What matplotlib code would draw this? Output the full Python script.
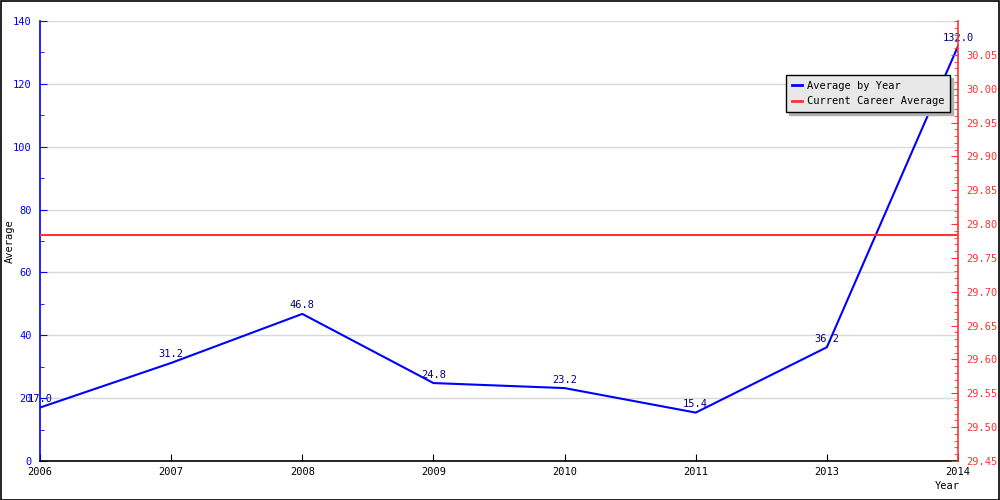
import matplotlib
matplotlib.use("Agg")
import matplotlib.pyplot as plt
from matplotlib.ticker import FixedLocator, MultipleLocator, FormatStrFormatter
from matplotlib.lines import Line2D
from matplotlib.patches import Rectangle

years = ["2006", "2007", "2008", "2009", "2010", "2011", "2013", "2014"]
averages = [17.0, 31.2, 46.8, 24.8, 23.2, 15.4, 36.2, 132.0]
career_average = 29.784
right_ticks = [29.45, 29.50, 29.55, 29.60, 29.65, 29.70, 29.75, 29.80, 29.85, 29.90, 29.95, 30.00, 30.05]

FS = 7.5
plt.rcParams['font.family'] = ['DejaVu Sans Mono']
plt.rcParams['font.size'] = FS

BLUE = '#0000ff'
RED = '#ff3333'
NAVY = '#000080'

fig = plt.figure(figsize=(10, 5), dpi=100)
fig.patch.set_facecolor('white')
fig.patches.append(Rectangle((0.0005, 0.001), 0.998, 0.997, transform=fig.transFigure,
                             fill=False, edgecolor='black', linewidth=1.2))

ax = fig.add_axes([0.040, 0.078, 0.918, 0.880])
x = list(range(len(years)))
ax.plot(x, averages, color=BLUE, linewidth=1.5, zorder=3)
for xi, v in zip(x, averages):
    ax.annotate(f"{v:.1f}", (xi, v), xytext=(0, 2.5), textcoords='offset points',
                ha='center', va='bottom', color=NAVY, fontsize=FS, zorder=4)

ax.set_xlim(0, len(years) - 1)
ax.set_ylim(0, 140)
ax.set_xticks(x)
ax.set_xticklabels(years)
ax.yaxis.set_major_locator(MultipleLocator(20))
ax.yaxis.set_minor_locator(MultipleLocator(10))
ax.grid(axis='y', which='major', color='#d8d8d8', linewidth=1, zorder=0)
ax.set_axisbelow(True)

ax.spines['top'].set_visible(False)
ax.spines['right'].set_visible(False)
ax.spines['left'].set_color(BLUE)
ax.spines['left'].set_linewidth(1.2)
ax.spines['bottom'].set_color('black')
ax.spines['bottom'].set_linewidth(1.2)
ax.tick_params(axis='y', which='major', direction='in', length=5, colors=BLUE, labelcolor=BLUE, pad=6)
ax.tick_params(axis='y', which='minor', direction='in', length=3, colors=BLUE)
ax.tick_params(axis='x', which='major', direction='in', length=5, colors='black', pad=4)

ax.set_ylabel("Average", color='black', fontsize=FS)
ax.yaxis.set_label_coords(-0.027, 0.5)
fig.text(0.947, 0.028, "Year", ha='center', va='center', fontsize=FS, color='black')

ax2 = ax.twinx()
ax2.set_ylim(29.45, 30.10)
ax2.yaxis.set_major_locator(FixedLocator(right_ticks))
ax2.yaxis.set_minor_locator(MultipleLocator(0.01))
ax2.yaxis.set_major_formatter(FormatStrFormatter('%.2f'))
ax2.axhline(career_average, color=RED, linewidth=1.5, zorder=2)
for s in ['top', 'left', 'bottom']:
    ax2.spines[s].set_visible(False)
ax2.spines['right'].set_color(RED)
ax2.spines['right'].set_linewidth(1.2)
ax2.tick_params(axis='y', which='major', direction='in', length=5, colors=RED, labelcolor=RED, pad=6)
ax2.tick_params(axis='y', which='minor', direction='in', length=3, colors=RED)

handles = [Line2D([], [], color=BLUE, linewidth=2), Line2D([], [], color=RED, linewidth=2)]
leg = ax2.legend(handles, ["Average by Year", "Current Career Average"],
                 loc='upper right', bbox_to_anchor=(0.950, 1 - 75 / 500),
                 bbox_transform=fig.transFigure, borderaxespad=0,
                 fancybox=False, shadow={'color': '#b0b0b0', 'alpha': 1.0},
                 facecolor='#e8e8e8', edgecolor='black', framealpha=1,
                 handlelength=1.0, handletextpad=0.45, labelspacing=0.55,
                 borderpad=0.55, fontsize=FS)
leg.get_frame().set_linewidth(1.0)
leg.set_zorder(10)

fig.savefig("out.png", dpi=100)
